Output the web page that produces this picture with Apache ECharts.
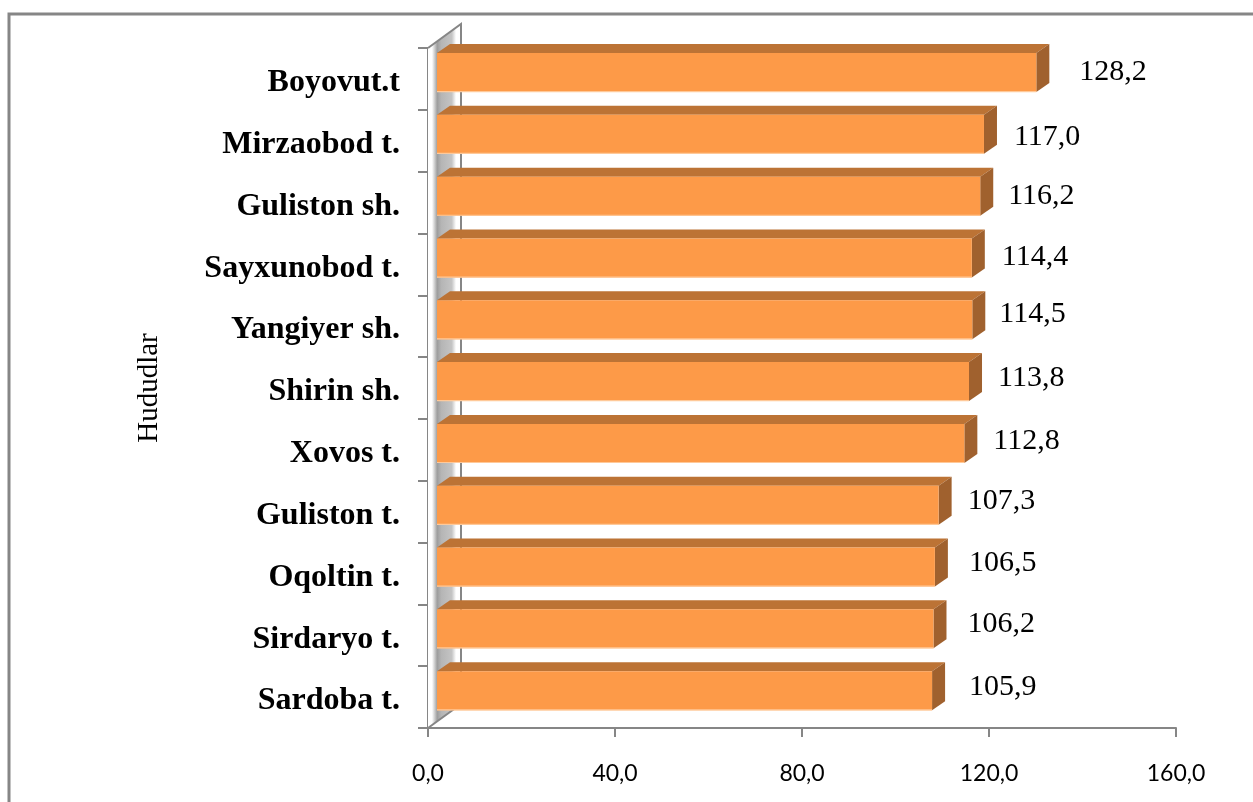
<!DOCTYPE html>
<html><head><meta charset="utf-8">
<script src="https://cdn.jsdelivr.net/npm/echarts@6/dist/echarts.min.js"></script>
<style>html,body{margin:0;padding:0;background:#fff}#c{width:1253px;height:802px}</style>
</head><body><div id="c"></div>
<script>
const categories = ['Sardoba t.','Sirdaryo t.','Oqoltin t.','Guliston t.','Xovos t.','Shirin sh.','Yangiyer sh.','Sayxunobod t.','Guliston sh.','Mirzaobod t.','Boyovut.t'];
const values = [105.9,106.2,106.5,107.3,112.8,113.8,114.5,114.4,116.2,117.0,128.2];
const xTicks = [0,40,80,120,160];
const axisTitle = 'Hududlar';

const labelNudge = [[36,-10],[33,-11],[33,-10],[28,-11],[28,-9],[28,-10],[26,-12],[29,-7],[27,-6],[29,-4],[42,-7]];
const DX = 13, DY = -9, FX = 9, FY = -6.4, FH = 39;
const axisColor = '#868686';

function renderBar(params, api) {
  const v = api.value(1), c = api.value(0);
  const a = api.coord([0, c]), b = api.coord([v, c]);
  const x0 = a[0] + FX, x1 = b[0] + FX, y0 = a[1] + FY - FH / 2, y1 = y0 + FH;
  return { type: 'group', children: [
    { type: 'polygon', shape: { points: [[x0,y0],[x1,y0],[x1+DX,y0+DY],[x0+DX,y0+DY]] }, style: { fill: '#BC7335' } },
    { type: 'polygon', shape: { points: [[x1,y0],[x1+DX,y0+DY],[x1+DX,y1+DY],[x1,y1]] }, style: { fill: '#A0612E' } },
    { type: 'rect', shape: { x: x0, y: y0, width: x1-x0, height: FH }, style: { fill: '#FD9A48' } },
    { type: 'rect', shape: { x: x0, y: y1-1, width: x1-x0, height: 1.2 }, style: { fill: '#FFC999' } }
  ]};
}
function renderLabel(params, api) {
  const i = params.dataIndex, v = api.value(1), c = api.value(0);
  const b = api.coord([v, c]);
  return { type: 'text', x: b[0] + FX + DX + labelNudge[i][0] - 12, y: b[1] + labelNudge[i][1],
    style: { text: v.toFixed(1).replace('.', ','), font: '30px "Liberation Serif"', fill: '#000', textVerticalAlign: 'middle', textAlign: 'left' } };
}
function renderWall(params, api) {
  const band = api.size([0, 1])[1];
  const bl = api.coord([0, 0]), tl = api.coord([0, categories.length - 1]);
  const x = bl[0], top = tl[1] - band / 2, bot = bl[1] + band / 2;
  const grad = { type: 'linear', x: 0, y: 0, x2: 1, y2: 0, colorStops: [
    {offset:0,color:'#ffffff'},{offset:0.12,color:'#ffffff'},{offset:0.28,color:'#9d9d9d'},{offset:0.4,color:'#b5b5b5'},{offset:0.72,color:'#c4c4c4'},{offset:0.85,color:'#ffffff'},{offset:1,color:'#ffffff'}] };
  return { type: 'group', children: [
    { type: 'polygon', shape: { points: [[x,top],[x+33,top-24],[x+33,bot-24],[x,bot]] }, style: { fill: grad } },
    { type: 'polyline', shape: { points: [[x,top],[x+33,top-24],[x+33,bot-24],[x,bot]] }, style: { fill: 'none', stroke: axisColor, lineWidth: 2 } }
  ]};
}

const chart = echarts.init(document.getElementById('c'), null, { renderer: 'canvas' });
chart.setOption({
  animation: false,
  backgroundColor: '#fff',
  grid: { left: 428, top: 48, width: 748, height: 680 },
  graphic: [{ type: 'polyline', silent: true, z: 10,
    shape: { points: [[9,802],[9,14],[1253,14]] }, style: { fill: 'none', stroke: '#868686', lineWidth: 3 } }],
  xAxis: { type: 'value', min: xTicks[0], max: xTicks[xTicks.length-1], interval: 40, position: 'bottom',
    splitLine: { show: false },
    axisLine: { show: true, lineStyle: { color: axisColor, width: 2 } },
    axisTick: { show: true, length: 9, lineStyle: { color: axisColor, width: 2 } },
    axisLabel: { margin: 34, color: '#000', fontFamily: 'Lato', fontSize: 23,
      formatter: v => v.toFixed(1).replace('.', ','), hideOverlap: false } },
  yAxis: { type: 'category', data: categories, position: 'left',
    name: axisTitle, nameLocation: 'middle', nameGap: 264, nameRotate: 90,
    nameTextStyle: { fontFamily: 'Liberation Serif', fontSize: 29, color: '#000' },
    axisLine: { show: true, lineStyle: { color: axisColor, width: 2 } },
    axisTick: { show: true, length: 10, lineStyle: { color: axisColor, width: 2 } },
    axisLabel: { margin: 28, color: '#000', fontFamily: 'Liberation Serif', fontWeight: 'bold', fontSize: 32, interval: 0, verticalAlign: 'top', lineHeight: 8 } },
  series: [
    { type: 'custom', name: 'wall', coordinateSystem: 'cartesian2d', renderItem: renderWall, data: [[0,0]], z: 1, clip: false, silent: true },
    { type: 'custom', name: 'bars', coordinateSystem: 'cartesian2d', renderItem: renderBar,
      data: values.map((v,i)=>[i,v]), encode: { x: 1, y: 0 }, z: 3, clip: false, silent: true },
    { type: 'custom', name: 'labels', coordinateSystem: 'cartesian2d', renderItem: renderLabel,
      data: values.map((v,i)=>[i,v]), encode: { x: 1, y: 0 }, z: 4, clip: false, silent: true }
  ]
});
</script></body></html>
